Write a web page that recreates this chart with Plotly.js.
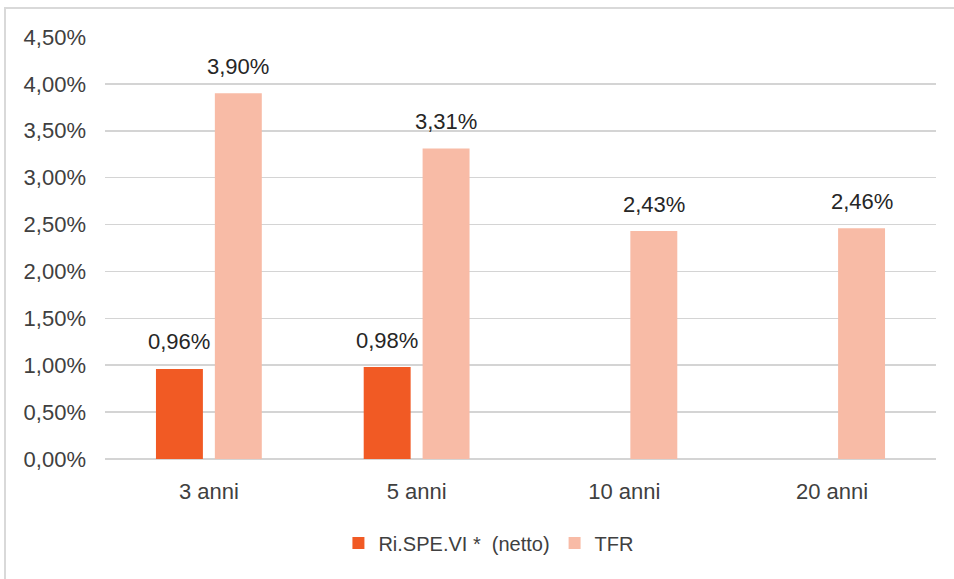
<!DOCTYPE html>
<html>
<head>
<meta charset="utf-8">
<script src="https://cdn.plot.ly/plotly-3.0.1.min.js"></script>
<style>
  html, body { margin: 0; padding: 0; background: #ffffff; overflow: hidden; }
  #wrap { position: relative; width: 954px; height: 579px; }
  #chart { position: absolute; left: 0; top: 0; width: 954px; height: 579px; }
  #frame { position: absolute; left: 4px; top: 7px; width: 1000px; height: 1000px;
           border-left: 2px solid #d9d9d9; border-top: 2px solid #d9d9d9; pointer-events: none; }
</style>
</head>
<body>
<div id="wrap">
  <div id="chart"></div>
  <div id="frame"></div>
</div>
<script>
// ---- data ----
const categories = ['3 anni', '5 anni', '10 anni', '20 anni'];
const seriesNames = ['Ri.SPE.VI *  (netto)', 'TFR'];
const rispeviValues = [0.0096, 0.0098, null, null];
const tfrValues = [0.0390, 0.0331, 0.0243, 0.0246];
const seriesColors = ['#F15A24', '#F8BBA6'];

// ---- layout params ----
const bargap = 0.433;
const bargroupgap = 0.203;
const font = 'Liberation Sans, Arial, sans-serif';

const allSeries = [rispeviValues, tfrValues];

const traces = allSeries.map((vals, i) => ({
  type: 'bar',
  name: seriesNames[i],
  x: categories,
  y: vals,
  marker: { color: seriesColors[i], line: { width: 0 } },
  hoverinfo: 'skip'
}));

function fmt(v) {
  return (v * 100).toFixed(2).replace('.', ',') + '%';
}

const slot = (1 - bargap) / 2;
const annotations = [];
allSeries.forEach((vals, i) => {
  vals.forEach((v, j) => {
    if (v === null) return;
    annotations.push({
      x: j + (i - 0.5) * slot,
      y: v,
      xref: 'x', yref: 'y',
      text: fmt(v),
      showarrow: false,
      yanchor: 'middle',
      xanchor: 'center',
      yshift: 27,
      font: { family: font, size: 22, color: '#262626' }
    });
  });
});

const layout = {
  width: 954,
  height: 579,
  margin: { l: 105, r: 18, t: 37, b: 120 },
  paper_bgcolor: '#ffffff',
  plot_bgcolor: '#ffffff',
  separators: ',.',
  barmode: 'group',
  bargap: bargap,
  bargroupgap: bargroupgap,
  font: { family: font, size: 20, color: '#404040' },
  xaxis: {
    type: 'category',
    showgrid: false,
    showline: false,
    zeroline: false,
    ticks: '',
    ticklabelstandoff: 17,
    tickfont: { family: font, size: 22, color: '#404040' },
    fixedrange: true
  },
  yaxis: {
    range: [0, 0.045],
    dtick: 0.005,
    tick0: 0,
    tickformat: '.2%',
    showgrid: true,
    gridcolor: '#d4d4d4',
    gridwidth: 1.5,
    zeroline: true,
    zerolinecolor: '#d4d4d4',
    zerolinewidth: 2,
    showline: false,
    ticks: '',
    ticklabelstandoff: 18,
    tickfont: { family: font, size: 22, color: '#404040' },
    fixedrange: true
  },
  showlegend: true,
  legend: {
    orientation: 'h',
    x: 0.462,
    xanchor: 'center',
    y: -0.199,
    yanchor: 'middle',
    itemwidth: 30,
    traceorder: 'normal',
    font: { family: font, size: 20, color: '#404040' },
    bgcolor: 'rgba(0,0,0,0)'
  },
  annotations: annotations
};

Plotly.newPlot('chart', traces, layout, { displayModeBar: false, staticPlot: true });
</script>
</body>
</html>
